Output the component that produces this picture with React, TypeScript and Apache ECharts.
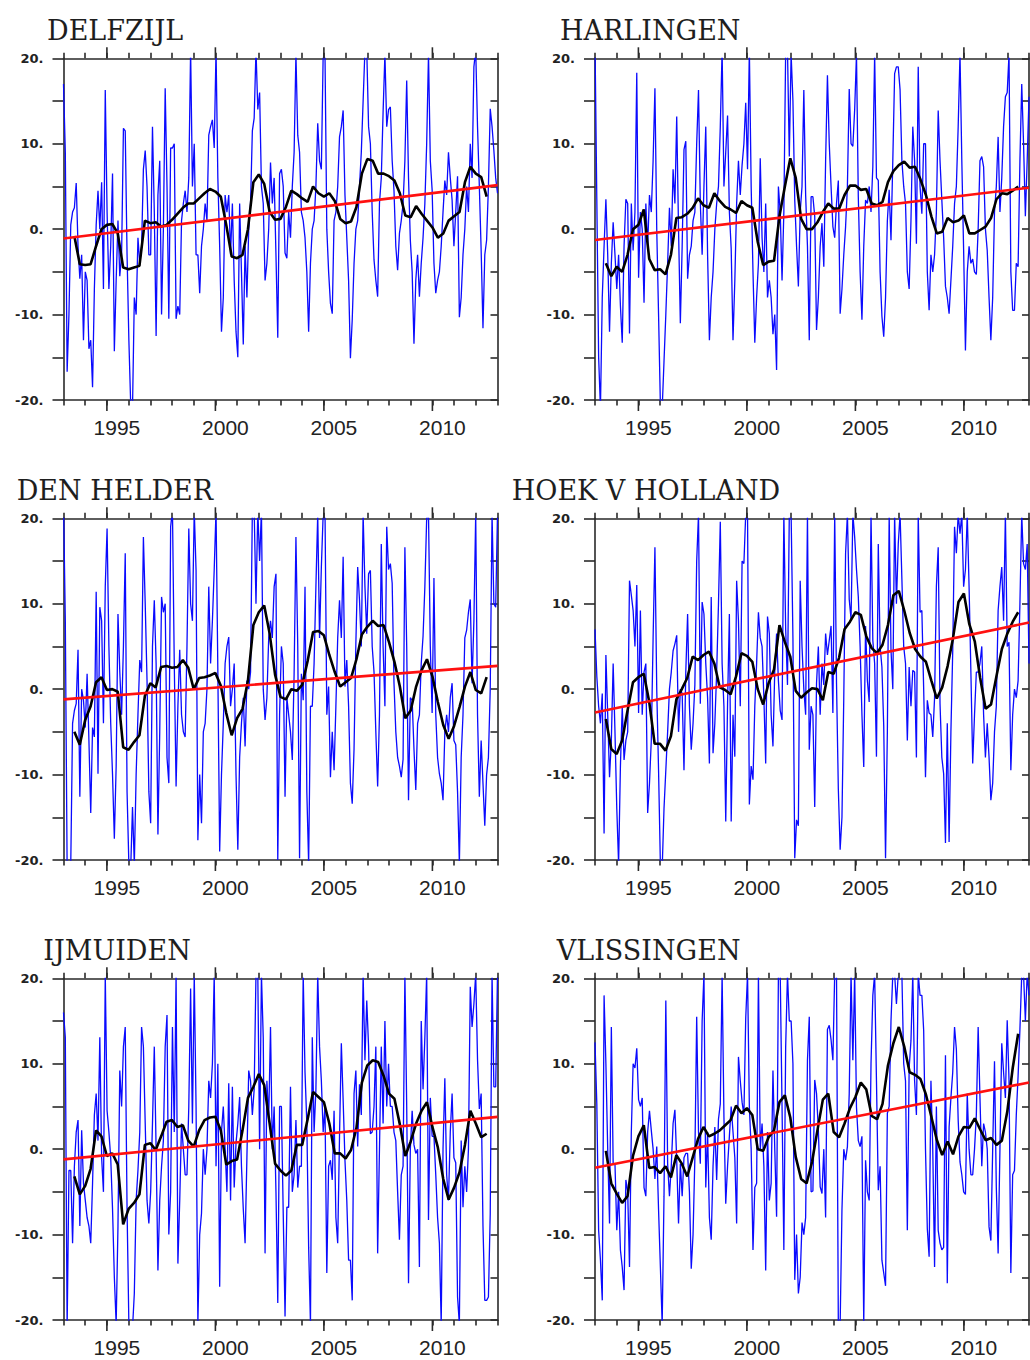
import React, { useEffect, useRef } from "react";
import * as echarts from "echarts";

// ---------------- DATA ----------------
const STATIONS = ["DELFZIJL", "HARLINGEN", "DEN HELDER", "HOEK V HOLLAND", "IJMUIDEN", "VLISSINGEN"];
const X_MIN = 1993;
const X_MAX = 2013;
const Y_MIN = -20;
const Y_MAX = 20;
const YEAR_LABELS = [1995, 2000, 2005, 2010];
const SMOOTH_START = 1993.5;
const SMOOTH_STEP = 0.25;

// monthly anomalies, Jan 1993 .. Dec 2012 (one row per year)
const delfzijlMonthly = [
  17, 9, -16.7, -10, 0.5, 2, 2.5, 5.4, -2, -5.8, -3, -13,
  -5, -6, -14, -13, -18.5, -7, 0.5, 4.5, 0, 5.5, -7, 16.3,
  2, -7, -2, 6.5, -14.3, -6, 1, -5.5, -3, 11.8, 11.5, -3,
  -13, -20.5, -21, -8, -10, -1, -4, -2, 7, 9.2, 5, -3,
  -3, 12, 2, -12.5, 4, 8, -10, 0, 16.5, 5, -10.5, 9.5,
  9.5, 10, -10.5, -9, -10, 1, 3, 4.5, 2, 6, 21, 5,
  10, -3, -3, -7.5, -2, 0, 3, 1, 11, 12, 12.8, 9.5,
  21, 6, -2, -12, -8, 4, 2, 4, -3, 3, -6, -12,
  -15, 3, -5, -13.5, -2, -8, 0, 3, 11.5, 13, 21, 14,
  16, 5, 3, -6, -4, 0, 7.8, 3, 6, -3, -12.7, 6.5,
  7, 5, -2.8, -3.4, 2, -1, 5, 9, 20.5, 11, 9, 2,
  1, -1, -5, -12, -4, 0, 1, 5, 12.4, 8, 7, 20.5,
  20.5, 0, -5, -8.7, -9.9, 1, 2, 5, 10.8, 12, 13.9, 4,
  -1, -6, -15.1, -10.6, -4, 0, 1, 5, 9, 15, 21, 21,
  12, 10, 2, -3.6, -6, -7.9, 3, 6, 13.7, 20.5, 12, 14,
  14.3, 8, 4.5, -2, -4.8, -0.5, 1, 3, 8, 17.4, 6, -1.3,
  -5, -13.4, -6, -3, -7.9, -4, -1, 3, 10, 20.5, 8, 4.6,
  -4, -7.5, -6, -5, -2, 2, 5.7, 4, 9, 6, 3.4, -2,
  2, 6.2, -10.3, -8, -3, 0, 5, 2, 10, 6, 19, 21,
  12, 5, -2.5, -11.6, -3, -1.3, 5, 14.1, 12, 9.2, 6, 4.2,
];

const harlingenMonthly = [
  22, 3.5, -15, -21, -8, -2, 3.5, -3, -12, -4, 0.8, -3,
  -7, -3, -9, -13.3, -2, 3.5, 3, -12.2, 3, -2.5, 2, 18.3,
  -5.7, 2, 0, -8.6, 3, -2, 4, 2, 8, 16.5, 0, -10,
  -20.5, -21, -15.5, -10, -4, 2.5, -2, 7, 3, 13.2, 0, -11,
  -2, 9.3, 10.3, -5.8, -3, -2, 1, 2, 10, 16.3, 3, -3,
  5, 12, -3, -13, -8, -5, 0, 3, 5, 12, 21, 5,
  9, 13.3, 2, -2.3, -13, -6, 3, 8, 4, 7.5, 10, 14.8,
  7, 21, 5, -5, -13.3, -8, -4, 8.3, -1, -5, 3, -8,
  -6, -8, -12.3, -10, -16.5, 5, 2, -6, 2, 21, 21, 8.5,
  20.5, 15, 3.4, -2, -6.7, 2, 5, 16.3, 4, -2, -13, 3.8,
  3.8, 1.5, -11.8, -8, -2, 0.7, -4.4, 8, 18, 10, 5, 0.3,
  -1, 3, 5.7, -9.9, -7, -3, 0.3, 5, 16.4, 10, 9.7, 14,
  20.5, 3.8, -5, -10.6, -2, 3.4, 3, 5, 2, 7.3, 20.5, 6,
  5.7, -5, -10.2, -12.6, -8, 1, 4.6, -1.3, 8, 18.2, 19, 19,
  16.3, 8, 5, 3, -5, -7, 1, 12, 8, -1.7, 19, 5,
  1.8, 10, 10, -5, -9.5, -3, -5, -3, 2, 13.9, 8, 3.4,
  -1, -6.7, -8, -9.9, -6, -2, 3, 5, 12, 20.5, 8, -2.5,
  -14.2, -5, -2, -4, -3.5, -5, -5.3, 0, 8, 8.5, 7.3, 0,
  -2.5, -8, -13, -8, 2, 5, 10.8, 2, 6, 12, 15.5, 16,
  20.5, -5, -9.5, -9.5, -4, -4.4, 8, 17, 10, 1.5, 8, 15.5,
];

const denHelderMonthly = [
  22, 8, -21, -21, -20.5, -4, -2.5, -1.7, 4.6, -12.6, 0, -1.3,
  -4.5, 1.8, -6, -14.5, -4.5, -5.6, 11.4, -9.9, 9.6, 8, -4, 12,
  18.8, 5, -4, -10, -17.5, -9, 8.8, 2, -3, 5, 15.9, -12,
  -20.5, -21, -13.8, -20.5, -10, -3, 3.4, 2, 17.8, 10, 1, -12,
  -15.7, 5, 10.4, 3, -17, -5, 10.8, 9, 10, -8, -11, 19,
  21, 3, -11.4, -2, 4.6, -3, -5, -5.6, 5, 18.8, 10, 8,
  21, 13.9, -17.7, -10, -15.7, -5, -4, 0, 12, 3, 8, 14,
  21, 2, -19, -10, -4, 3, 5, 6.1, -2, 0, 3, -10,
  -18.8, -8, -4, -1, -6.7, 1, 0, 2, 21, 21, 10, 21,
  15, 21, 0, -3.6, -1, 6, 8, 6, 12, 13.5, -20, -3,
  5, 3, -12.6, -1, -3, -5, -8.3, 1.8, 17.8, 5, -19.8, 1.8,
  -1.3, 12, -12, -20.5, -2, -2, 3, 12, 20.5, 6, 14.3, 20.5,
  21, -3, 0.3, -10.3, -5, -9.5, -2, 6, 10.4, 6, 15.5, 0.3,
  3.4, -2, -11, -13.4, -7, 5.3, 14.3, 10.4, 5, 20.5, 12, 6.5,
  13.5, 13.9, 5, 2, -5, -11.4, -3, 17, 5, -2, 19, 14,
  14.7, 12.4, 0.7, -5, -8, -9, -10.3, -8.2, 16.6, 5, -13, -1,
  -1.3, -7, -11.8, -4, -3, 3, 6.2, 12, 20, 20.5, 5, -2.8,
  13, -3, -8, -9.9, -11, -13, -5, -3, -5, -1, 0.7, -6,
  -6.5, -12, -20.5, -8, -3, 6, 6.9, 9, 10.5, 0.7, 8, 20.5,
  -3, -12.6, -6, -11, -16, -10, -8, 0, 20.5, 10, 9.6, 20.5,
];

const hoekMonthly = [
  7, 1.5, -2, -4, -0.5, -16.9, 4, -3, -10.3, -6, 3, -5,
  -14, -20.5, -9, -2, -8.3, -6, -5, 12.7, 11, 9.2, 5, 12.2,
  -2.8, 9.2, -3, 2, 3, -14.5, -11, -6, 6, 16.6, 0, -9.5,
  -20.5, -21, -14, -9.5, -5, 0, 2, 4.5, 5.3, 6.3, -5, 0,
  -0.5, -9.5, 2, 8.8, -2, -7.1, -4, 0.5, 15, 20.5, -1.7, 10.2,
  8.8, 3, -1, -8.7, 10.8, -7.5, -4, 2, 10, 19.6, 3, -2,
  -15.5, -1.7, 8.8, -15.5, -3, -7.9, 12.7, 8, -2, 15, 14.7, 20.5,
  20.5, -13.5, -9, -10.6, -2, 3, 9, 6, 5, -1, -8.7, 8.5,
  6.5, -3, -6.7, 2.2, 6.5, 1, -2.5, -3.6, 20.5, 7, 0.5, 20.5,
  20.5, 6, -19.8, -15.3, -16, 12.7, 5, 0, -3, 20.5, -7.1, -2,
  -3, -13.8, 0.7, 5, -3, 3, 0.5, 6.5, 4, 5.7, 7.4, -2.8,
  20.5, 0.7, -11.7, -18.8, -15, -1, 15.9, 20.5, 10.5, 8.2, 20.5, 17.8,
  14, 10.8, 5, -3, -9.1, 7.4, 1, -1.5, 20.5, 5.7, 3, -7.9,
  17, 5, 2.6, -4.3, -19.8, -5, 20.5, 4.6, 0, 20.5, 10, 17,
  20.5, 12.9, 5, 3, -6, 2.6, -2, 2.2, 2, -8, 20.5, 9,
  9.2, 0, -10.3, -1.3, -2.8, -3, -5.6, -1, 12, 16.6, -1.7, -8,
  -9.9, -18, -4, -17.9, -5, 4.5, 19, 15.9, 20.5, 18.2, 20.5, 12,
  14, 20.5, 12, 2, -8.7, -3, 2, 2, 3, 5, -3, -8,
  -4, -8, -13, -11, -5, -2, 9.2, 12, 14.3, 8, 20.5, 5,
  5.5, -9.5, -3, 0, -1, 1, 10, 20.5, 14.7, 14, 17, 3,
];

const ijmuidenMonthly = [
  16, 13.1, -21, -2.5, -2.5, -11, -2, 2, 3.4, -9, 2.2, -4,
  -6, -8, -9, -11, -4, 4, 6.5, 1, 13.1, -1, -5, 20.5,
  4.5, 2, -1, -7, -15, -20.5, -9, 9.2, 5, 12, 14.3, -7,
  -20.5, -20.5, -21, -16.9, -6, -2.5, 2, 14.3, 12, 3, -6, -8.7,
  -5, 3, 12, 0, -14.2, -6, -2, 1, 12, 15.7, -10, -5,
  14.3, 2, 20.5, -13.4, -6, 3, 0, -3, -3, 5, 18.8, 3,
  20.5, 5, -20.5, -10, -7.5, 0, -3, 0, 8, 6, 10, 20.5,
  -2, 10, -16.1, 2, 5, 0, -5, 7.7, -6, 7.3, -4.5, 0.7,
  3, 6.1, -2, -7, -11, -1, 9.2, 8, 4, 7, 20.5, 20.5,
  0, 20.5, 13, -12.2, 8, 3.4, 14.3, 0, 5, -5, -18, 5,
  5, -7.5, -19.6, -6.8, -6.8, 7.3, -5, -3, 3.4, -4.5, -2, -2,
  20.5, 9, 3, -11.5, -20.5, 13.1, 2, 7, 20.5, 12, 8, 2,
  5, -14.5, -2, -1.3, -3.6, 4.5, -8, -11, 1.5, 12.4, 5.7, -1.3,
  -6, -13, -13, -17.7, 6.5, 9.2, 0.3, 7.6, 4, 20.5, 10.4, 17.4,
  12, 1.8, 2, 5, 12, -12.2, 0, 12, 3, 15, 5, 10,
  5, 5, 2, 1, -5, -10.6, -3, -2, 20.5, 5, -15.7, 0,
  4.5, 0.5, -0.5, 0, -13.8, 15, 7, 13.1, 20.5, -8.3, 6, 1.5,
  1.5, -3, -8, -11, -20.5, 0, 8.3, -3, -6, 2, 6.5, -1,
  -1.6, -17.3, -20.5, 1, -6.8, -2, -5, 0, 19, 14.3, 17, 20.5,
  10.5, 4.7, 6.5, -9, -17.7, -17.7, -17.3, -7.6, 20.5, 7.3, 7.3, 20.5,
];

const vlissingenMonthly = [
  12.5, 5.3, -9.5, -13, -17.7, 18, 10, 0, -8.7, 14.3, -1.7, -1.7,
  -9.5, -5, -11.8, -13.8, -16.5, -3.6, -5, -13.8, 2, 10, 9.5, 11.8,
  5.8, 5, 6, -4.5, -5.5, 2, 4.5, 2.2, 0, -3.5, 0.3, -7.1,
  -13.8, -20.5, -5.5, 17.4, -1.7, -5.5, -2, 3, 4.6, -1.3, -8.7, -1.7,
  -5.5, -1, -0.5, -0.5, -5, -14, -10, -1, 15.5, 2, -1.7, 15,
  20.5, -4.5, 2, -8, -10.6, -2, 2.6, -3.6, 3.5, 5.3, 20.5, 3.8,
  -6.4, -2, 1.5, 5, 2, -1, -8.7, 10.8, 8, 5.5, 4, 15.3,
  20.5, 5, 0, -11.8, -4.5, -4, 20.5, 0, 3, -2, -14.2, 2,
  -6, -4, 9.2, 0, -7.9, 20.5, 20.5, 5, -11.8, 12, 20.5, 15,
  15, 10, -15.3, -10, -16.9, -15, -8.6, -10, -8, 10.4, 15.5, -5,
  -4.9, 8.1, 6.5, 2.2, -4.4, -5.2, 0, -8, 14, 14.5, 12.8, 10.4,
  20.5, 20.5, -20.5, -20.5, -7.1, 0, -1.3, 0.3, 6.5, 20.5, 10.4, 20.5,
  4.9, 1, 0.3, 1.5, -20.5, -1.3, -5, -6, 10, 18, 20.5, 8,
  -4.8, -2, -13, -14.5, -16, 4.2, 5, 15, 20.5, 20.5, 17, 20.5,
  20.5, 20.5, 10, 8, -9.5, 9.5, 12.7, 20.5, 8, 4, 20.5, 18,
  18, 13.9, 0, -9.3, -12.6, 8, 0, -13.8, 5, -9.5, -11, -11.8,
  -11.5, 11, -15.7, 2.6, 6, 9, 14.3, 11.7, 3.4, -1.5, -3, -5,
  -5.3, 6.5, 0, -3, -3, 0, 4, 14.3, 6, -2, 3, 2,
  0, -9.1, -10.7, 0, 10.3, -4.5, -12.2, 0, 12.4, 9, 6, 15.1,
  8, -14.5, -3, -2.5, 4, 8.6, 14, 20.5, 20.5, 15, 20.5, 18,
];

// 12-month running means, quarterly from 1993.5 to 2012.5
const delfzijlSmooth = [
  -0.8, -4.1,
  -4.2, -4.1, -2, 0,
  0.5, 0.6, -0.5, -4.5,
  -4.7, -4.5, -4.3, 1,
  0.7, 0.8, 0.3, 0.5,
  1.1, 1.8, 2.5, 3,
  3, 3.6, 4.2, 4.7,
  4.4, 3.8, 0.5, -3.2,
  -3.4, -3, 0, 5.5,
  6.4, 5.3, 2, 1.1,
  1.2, 2.6, 4.5, 4.1,
  3.6, 3.2, 5, 4.2,
  3.8, 4.2, 3.3, 1.2,
  0.7, 0.9, 2.6, 6.5,
  8.2, 8, 6.5, 6.5,
  6.2, 5.7, 4.2, 1.6,
  1.4, 2.7, 1.8, 1,
  0.2, -1, -0.5, 1,
  1.5, 2, 5.5, 7.3,
  6.5, 6.1, 3.8,
];

const harlingenSmooth = [
  -4, -5.5,
  -4.4, -5, -3, 0,
  0.5, 2.3, -3.5, -4.8,
  -4.7, -5.3, -3, 1.3,
  1.4, 1.8, 2.5, 3.6,
  2.8, 2.5, 4.2, 3.3,
  2.6, 2.3, 1.9, 3.3,
  2.8, 2.5, -1.5, -4.2,
  -3.8, -3.7, 1.5, 5,
  8.3, 6, 1.2, 0,
  0, 0.8, 2, 3,
  2.4, 2.4, 4, 5.1,
  5.1, 4.6, 4.7, 3,
  2.8, 3.2, 5.5, 6.8,
  7.5, 7.9, 7.2, 7.3,
  5.8, 4, 1.5, -0.5,
  -0.3, 1.3, 0.8, 1,
  1.6, -0.5, -0.5, -0.1,
  0.3, 1.3, 3.5, 4.2,
  4.1, 4.5, 5,
];

const denHelderSmooth = [
  -5, -6.5,
  -3.6, -2, 0.8, 1.4,
  -0.1, 0, -0.3, -6.8,
  -7.1, -6.2, -5.4, -0.8,
  0.7, 0.2, 2.6, 2.7,
  2.5, 2.6, 3.4, 2.5,
  0, 1.3, 1.4, 1.6,
  1.9, 0.4, -2.8, -5.4,
  -3.4, -2.3, 1, 7.5,
  9, 9.8, 6.5, 1.7,
  -0.9, -1.2, 0, -0.2,
  0.5, 3.3, 6.7, 6.8,
  6.3, 4, 2, 0.3,
  0.8, 1.3, 3.5, 6.4,
  7.3, 8, 7.4, 7.5,
  5.5, 3.2, 0.3, -3.4,
  -2.5, 0.3, 2.2, 3.5,
  1.5, -1.5, -4.2, -5.8,
  -4.3, -2.1, 0.3, 2,
  -0.1, -0.5, 1.4,
];

const hoekSmooth = [
  -3.5, -7,
  -7.6, -6, -2.5, 0.8,
  1.4, 1.8, -1.5, -6.4,
  -6.4, -7.2, -5.5, -1.2,
  0, 1.3, 3.8, 3.4,
  4, 4.4, 3, 0.2,
  -0.1, -0.6, 1.5, 4.2,
  3.9, 3.2, 0, -1.8,
  0.7, 2.3, 7.5, 5.5,
  3.8, -0.2, -1, -0.4,
  0.1, 0, -1.3, 2,
  1.8, 3.7, 7, 7.9,
  9, 8.7, 6.2, 4.8,
  4.2, 5.2, 7.5, 11,
  11.5, 9.2, 6.6, 4.7,
  3.8, 3.2, 1, -1.1,
  0.2, 2.7, 6, 10.2,
  11.2, 7.6, 5.6, 1.3,
  -2.3, -1.8, 1.5, 4.7,
  6.5, 7.9, 9,
];

const ijmuidenSmooth = [
  -3.2, -5.3,
  -4.3, -2.3, 2.2, 1.5,
  -0.8, -0.5, -1.8, -8.8,
  -7, -6.3, -5.3, 0.5,
  0.7, -0.1, 1.5, 3.2,
  3.4, 2.6, 2.8, 1,
  0.3, 2.2, 3.4, 3.7,
  3.8, 2.2, -1.8, -1.4,
  -1.2, 2.2, 6, 7.3,
  8.8, 7.5, 3, -1.7,
  -2.5, -3.1, -2.5, 0.5,
  0.5, 3.5, 6.7, 6.1,
  5.5, 3, -0.5, -0.5,
  -1.1, -0.1, 2.5, 7.8,
  9.8, 10.4, 10.2, 8.6,
  6.5, 5.9, 2.9, -0.8,
  0.9, 3, 4.5, 5.5,
  2.6, 0.2, -3.5, -5.9,
  -4.5, -2.7, 0.5, 4.5,
  3, 1.4, 1.8,
];

const vlissingenSmooth = [
  -0.2, -4,
  -5.2, -6.3, -5.5, -0.8,
  1.5, 2.8, -2.2, -2.1,
  -2.8, -2, -3.3, -0.7,
  -1.7, -3.2, -1, 1.2,
  2.6, 1.5, 1.8, 2.2,
  2.8, 3.4, 5.1, 4.2,
  4.8, 4, 0, -0.2,
  1.4, 2.2, 5.5, 6.3,
  3.7, -0.9, -3.5, -4,
  -1.5, 2.2, 5.8, 6.5,
  2, 1.4, 3, 4.8,
  6.1, 7.8, 7, 3.9,
  3.5, 5.3, 9.8, 12.4,
  14.3, 12, 9, 8.7,
  8.2, 6.4, 3.8, 1.1,
  -0.7, 0.9, -0.6, 1.5,
  2.6, 2.5, 3.6, 2.3,
  1.05, 1.3, 0.5, 1,
  4.4, 9.5, 13.5,
];

// linear trend values at X_MIN and X_MAX
const trendStart = [-1.1, -1.27, -1.2, -2.73, -1.2, -2.18];
const trendEnd = [5.15, 4.85, 2.73, 7.8, 3.78, 7.8];

const MONTHLY = [delfzijlMonthly, harlingenMonthly, denHelderMonthly, hoekMonthly, ijmuidenMonthly, vlissingenMonthly];
const SMOOTH = [delfzijlSmooth, harlingenSmooth, denHelderSmooth, hoekSmooth, ijmuidenSmooth, vlissingenSmooth];

// ---------------- LAYOUT ----------------
const PANEL_POS = [
  [63.5, 58.3], [595, 58.3],
  [63.5, 518.3], [595, 518.3],
  [63.5, 978.3], [595, 978.3],
];
const PANEL_W = 434;
const PANEL_H = 341.7;
const TITLE_POS = [
  [47, 30], [560, 30],
  [16.7, 490], [511.7, 490],
  [43.3, 950], [556.7, 950],
];
const FRAME = { color: "#2a2a2a", width: 1.6 };

function buildOption(): any {
  const grid: any[] = [];
  const xAxis: any[] = [];
  const yAxis: any[] = [];
  const series: any[] = [];
  const graphic: any[] = [];

  STATIONS.forEach((name, i) => {
    const [left, top] = PANEL_POS[i];
    grid.push({ left, top, width: PANEL_W, height: PANEL_H, outerBoundsMode: "none" });

    const xBase = {
      type: "value",
      gridIndex: i,
      min: X_MIN,
      max: X_MAX,
      interval: 1,
      splitLine: { show: false },
      axisLine: { show: true, onZero: false, lineStyle: FRAME },
      axisTick: { show: true, inside: false, length: 5.5, lineStyle: FRAME },
    };
    xAxis.push({
      ...xBase,
      position: "bottom",
      axisLabel: {
        show: true,
        margin: 17,
        padding: [0, 0, 0, 20],
        color: "#222",
        fontFamily: "Liberation Sans",
        fontSize: 21,
        showMinLabel: true,
        showMaxLabel: true,
        formatter: (v: number) => (YEAR_LABELS.indexOf(Math.round(v)) >= 0 ? String(Math.round(v)) : ""),
      },
    });
    xAxis.push({ ...xBase, position: "top", axisLabel: { show: false } });

    const yBase = {
      type: "value",
      gridIndex: i,
      min: Y_MIN,
      max: Y_MAX,
      interval: 5,
      splitLine: { show: false },
      axisLine: { show: true, onZero: false, lineStyle: FRAME },
    };
    yAxis.push({
      ...yBase,
      position: "left",
      axisTick: { show: true, inside: false, length: 11, lineStyle: FRAME },
      axisLabel: {
        show: true,
        margin: 20,
        color: "#222",
        fontFamily: "DejaVu Sans",
        fontWeight: "bold",
        fontSize: 13,
        showMinLabel: true,
        showMaxLabel: true,
        formatter: (v: number) => (Math.round(v) % 10 === 0 ? `${Math.round(v)}.` : ""),
      },
    });
    yAxis.push({
      ...yBase,
      position: "right",
      axisTick: { show: true, inside: true, length: 7, lineStyle: FRAME },
      axisLabel: { show: false },
    });

    const xi = 2 * i;
    const yi = 2 * i;
    const m = MONTHLY[i];
    series.push({
      type: "line",
      name: `${name} monthly`,
      xAxisIndex: xi,
      yAxisIndex: yi,
      data: m.map((v, k) => [X_MIN + (k * (X_MAX - X_MIN)) / (m.length - 1), v]),
      showSymbol: false,
      symbol: "none",
      clip: true,
      silent: true,
      lineStyle: { color: "#0a0aff", width: 1.3 },
      itemStyle: { color: "#0a0aff" },
      z: 2,
    });
    series.push({
      type: "line",
      name: `${name} running mean`,
      xAxisIndex: xi,
      yAxisIndex: yi,
      data: SMOOTH[i].map((v, k) => [SMOOTH_START + k * SMOOTH_STEP, v]),
      showSymbol: false,
      symbol: "none",
      clip: true,
      silent: true,
      lineStyle: { color: "#000", width: 2.6 },
      itemStyle: { color: "#000" },
      z: 3,
    });
    series.push({
      type: "line",
      name: `${name} trend`,
      xAxisIndex: xi,
      yAxisIndex: yi,
      data: [[X_MIN, trendStart[i]], [X_MAX, trendEnd[i]]],
      showSymbol: false,
      symbol: "none",
      clip: true,
      silent: true,
      lineStyle: { color: "#ff1010", width: 2.6 },
      itemStyle: { color: "#ff1010" },
      z: 4,
    });
    // long (major) ticks at the labelled years, top and bottom
    series.push({
      type: "custom",
      xAxisIndex: xi,
      yAxisIndex: yi,
      data: YEAR_LABELS.map((y) => [y, 0]),
      clip: false,
      silent: true,
      z: 5,
      renderItem: (params: any, api: any) => {
        const x = api.value(0);
        const pb = api.coord([x, Y_MIN]);
        const pt = api.coord([x, Y_MAX]);
        const st = { stroke: FRAME.color, lineWidth: FRAME.width };
        return {
          type: "group",
          children: [
            { type: "line", shape: { x1: pb[0], y1: pb[1], x2: pb[0], y2: pb[1] + 11 }, style: st },
            { type: "line", shape: { x1: pt[0], y1: pt[1], x2: pt[0], y2: pt[1] - 11 }, style: st },
          ],
        };
      },
    });

    const [tx, ty] = TITLE_POS[i];
    graphic.push({
      type: "text",
      x: tx,
      y: ty,
      silent: true,
      style: {
        text: name,
        fill: "#1e1e1e",
        font: '27px "DejaVu Serif"',
        fontFamily: "DejaVu Serif",
        fontSize: 27,
        align: "left",
        verticalAlign: "middle",
      },
    });
  });

  return {
    animation: false,
    backgroundColor: "#ffffff",
    textStyle: { fontFamily: "Liberation Sans" },
    grid,
    xAxis,
    yAxis,
    series,
    graphic,
  };
}

export default function App() {
  const ref = useRef<HTMLDivElement>(null);
  useEffect(() => {
    document.body.style.margin = "0";
    if (!ref.current) return;
    const chart = echarts.init(ref.current, undefined, { renderer: "svg" });
    chart.setOption(buildOption());
    return () => chart.dispose();
  }, []);
  return <div ref={ref} style={{ width: 1030, height: 1360, background: "#fff" }} />;
}
